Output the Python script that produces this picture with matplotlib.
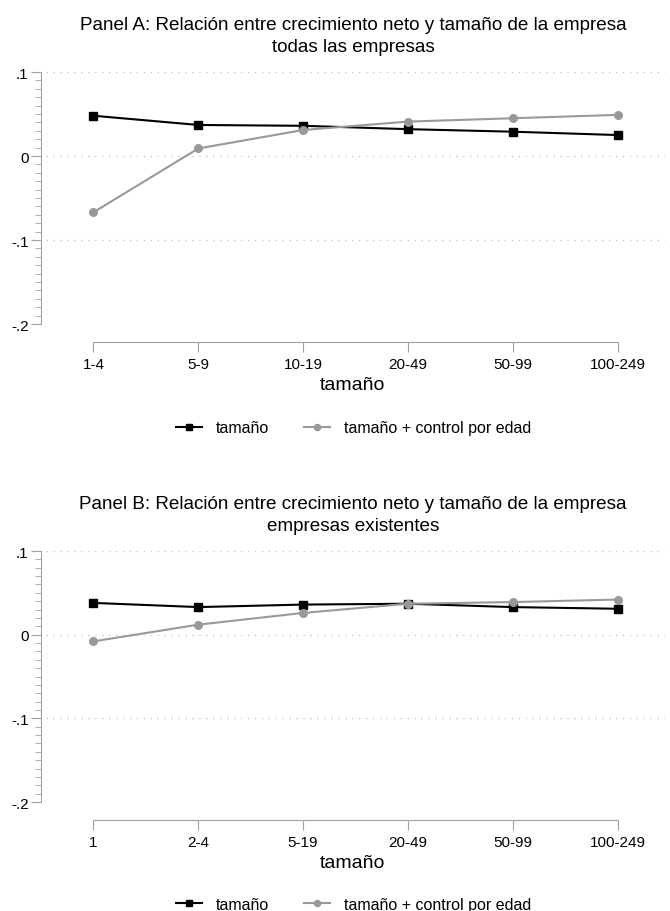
import numpy as np
import matplotlib
matplotlib.use("Agg")
import matplotlib.pyplot as plt
import matplotlib.ticker as ticker

plt.rcParams['font.family'] = ['Liberation Sans', 'DejaVu Sans']

# Panel A: todas las empresas
cats_a = ["1-4", "5-9", "10-19", "20-49", "50-99", "100-249"]
size_a = [0.048, 0.037, 0.036, 0.032, 0.029, 0.025]
size_age_a = [-0.067, 0.009, 0.031, 0.041, 0.045, 0.049]

# Panel B: empresas existentes
cats_b = ["1", "2-4", "5-19", "20-49", "50-99", "100-249"]
size_b = [0.038, 0.033, 0.036, 0.037, 0.033, 0.031]
size_age_b = [-0.008, 0.012, 0.026, 0.037, 0.039, 0.042]

panels = [
    ("Panel A: Relación entre crecimiento neto y tamaño de la empresa\ntodas las empresas",
     cats_a, size_a, size_age_a),
    ("Panel B: Relación entre crecimiento neto y tamaño de la empresa\nempresas existentes",
     cats_b, size_b, size_age_b),
]

axis_gray = "#a0a0a0"
line_gray = "#999999"

fig = plt.figure(figsize=(6.7, 9.12), dpi=100)
boxes = [[0.0612, 0.6436, 0.931, 0.2763], [0.0612, 0.1195, 0.931, 0.2752]]
legend_y = [0.530, 0.0075]

for (title, cats, s, sa), box, ly in zip(panels, boxes, legend_y):
    ax = fig.add_axes(box)
    x = np.arange(len(cats))
    l1, = ax.plot(x, s, color="black", lw=1.5, marker="s", markersize=6, label="tamaño", zorder=3)
    l2, = ax.plot(x, sa, color=line_gray, lw=1.5, marker="o", markersize=5.5, label="tamaño + control por edad", zorder=3)

    ax.set_xlim(-0.5, 5.45)
    ax.set_ylim(-0.2, 0.1)
    ax.set_yticks([-0.2, -0.1, 0, 0.1])
    ax.set_yticklabels(["-.2", "-.1", "0", ".1"])
    ax.yaxis.set_minor_locator(ticker.MultipleLocator(0.01))
    ax.set_xticks(x)
    ax.set_xticklabels(cats)

    for yv in [0.1, 0, -0.1]:
        ax.plot([-0.45, 5.45], [yv, yv], color="#c8c8c8", lw=1, ls=(0, (1, 4)), zorder=1)

    for sp in ["top", "right"]:
        ax.spines[sp].set_visible(False)
    ax.spines["left"].set_color(axis_gray)
    ax.spines["bottom"].set_color(axis_gray)
    ax.spines["bottom"].set_position(("outward", 13))
    ax.spines["bottom"].set_bounds(0, 5)
    ax.tick_params(axis="y", which="major", length=7, color=axis_gray, labelsize=11, pad=2)
    ax.tick_params(axis="y", which="minor", length=4, color=axis_gray)
    ax.tick_params(axis="x", length=7, color=axis_gray, labelsize=11, pad=4)

    ax.set_xlabel("tamaño", fontsize=14, labelpad=3)
    ax.set_title(title, fontsize=13.6, pad=15, linespacing=1.4)

    fig.legend(handles=[l1, l2], loc="center", bbox_to_anchor=(0.528, ly), ncol=2,
               frameon=False, fontsize=11.5, handlelength=1.6, columnspacing=2.2,
               handletextpad=0.9, markerscale=0.8)

fig.savefig("out.png", dpi=100, facecolor="white")
